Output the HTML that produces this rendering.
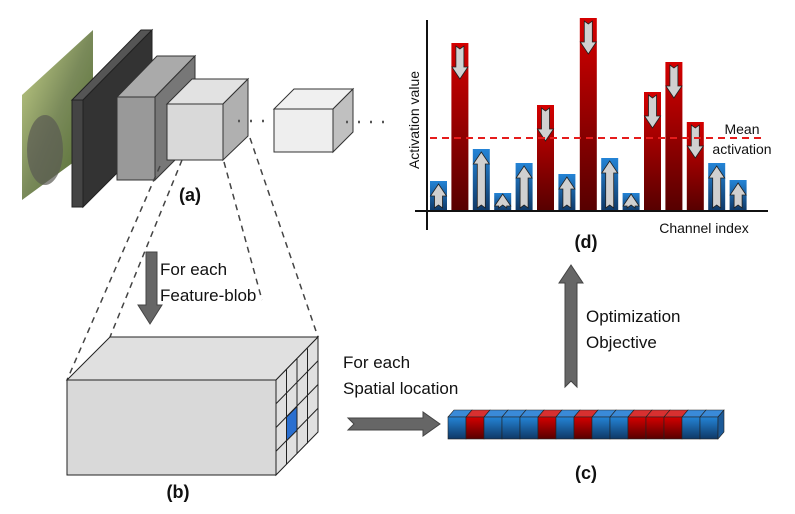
<!DOCTYPE html>
<html><head><meta charset="utf-8"><style>
html,body{margin:0;padding:0;background:#fff;}
svg{display:block;font-family:"Liberation Sans",sans-serif;}
</style></head><body>
<svg id="fig" width="795" height="514" viewBox="0 0 795 514" xmlns="http://www.w3.org/2000/svg">
<defs>
<linearGradient id="red" x1="0" y1="0" x2="0" y2="1"><stop offset="0" stop-color="#d40000"/><stop offset="1" stop-color="#560000"/></linearGradient>
<linearGradient id="blue" x1="0" y1="0" x2="0" y2="1"><stop offset="0" stop-color="#2484d6"/><stop offset="1" stop-color="#0f3866"/></linearGradient>
<linearGradient id="cat" x1="0" y1="0" x2="1" y2="1"><stop offset="0" stop-color="#c9d58a"/><stop offset="0.5" stop-color="#7a8a5a"/><stop offset="1" stop-color="#4f6a2a"/></linearGradient>
</defs>
<g>
<polygon points="22,95 93,30 93,148 22,200" fill="url(#cat)"/>
<ellipse cx="45" cy="150" rx="18" ry="35" fill="#5a5a52" opacity="0.7"/>
<polygon points="72,100 141,30 152,30 83,100" fill="#555" stroke="#222" stroke-width="1"/>
<polygon points="83,100 152,30 152,138 83,207" fill="#333" stroke="#222" stroke-width="1"/>
<rect x="72" y="100" width="11" height="107" fill="#444" stroke="#222" stroke-width="1"/>
<polygon points="117,97 157,56 195,56 155,97" fill="#aaa" stroke="#333" stroke-width="1"/>
<polygon points="155,97 195,56 195,140 155,180" fill="#777" stroke="#333" stroke-width="1"/>
<rect x="117" y="97" width="38" height="83" fill="#999" stroke="#333" stroke-width="1"/>
<polygon points="167,104 192,79 248,79 223,104" fill="#e2e2e2" stroke="#333" stroke-width="1"/>
<polygon points="223,104 248,79 248,136 223,160" fill="#b0b0b0" stroke="#333" stroke-width="1"/>
<rect x="167" y="104" width="56" height="56" fill="#d9d9d9" stroke="#333" stroke-width="1"/>
<line x1="238" y1="121" x2="274" y2="121" stroke="#555" stroke-width="2.5" stroke-dasharray="2,10"/>
<polygon points="274,109 294,89 353,89 333,109" fill="#f0f0f0" stroke="#333" stroke-width="1"/>
<polygon points="333,109 353,89 353,132 333,152" fill="#c0c0c0" stroke="#333" stroke-width="1"/>
<rect x="274" y="109" width="59" height="43" fill="#eee" stroke="#333" stroke-width="1"/>
<line x1="346" y1="122" x2="384" y2="122" stroke="#555" stroke-width="2.5" stroke-dasharray="2,10"/>
<text x="190" y="201" font-size="18" font-weight="bold" text-anchor="middle" fill="#111">(a)</text>
</g>
<g stroke="#444" stroke-width="1.5" stroke-dasharray="6,5" fill="none">
<line x1="160" y1="166" x2="67" y2="380"/>
<line x1="182" y1="160" x2="110" y2="337"/>
<line x1="224" y1="162" x2="262" y2="300"/>
<line x1="250" y1="138" x2="318" y2="337"/>
</g>
<polygon points="146,252 157,252 157,305 162,305 150,324 138,305 146,305" fill="#666" stroke="#444"/>
<text x="160" y="275" font-size="17" fill="#111"><tspan x="160">For each</tspan><tspan x="160" dy="26">Feature-blob</tspan></text>
<g>
<polygon points="67,380 110,337 318,337 276,380" fill="#e0e0e0" stroke="#222" stroke-width="1"/>
<rect x="67" y="380" width="209" height="95" fill="#d9d9d9" stroke="#222" stroke-width="1"/>
<polygon points="276,380 318,337 318,432 276,475" fill="#e0e0e0" stroke="#222" stroke-width="1"/>
<g id="grid" stroke="#222" stroke-width="1"></g>
<text x="178" y="498" font-size="18" font-weight="bold" text-anchor="middle" fill="#111">(b)</text>
</g>
<text x="343" y="368" font-size="17" fill="#111"><tspan x="343">For each</tspan><tspan x="343" dy="26">Spatial location</tspan></text>
<polygon points="348,418 423,418 423,412 440,424 423,436 423,430 348,430 354,424" fill="#666" stroke="#444"/>
<g id="vec"></g>
<text x="586" y="479" font-size="18" font-weight="bold" text-anchor="middle" fill="#111">(c)</text>
<polygon points="565,387 571,381 577,387 577,283 583,283 571,265 559,283 565,283" fill="#666" stroke="#444"/>
<text x="586" y="322" font-size="17" fill="#111"><tspan x="586">Optimization</tspan><tspan x="586" dy="26">Objective</tspan></text>
<g id="chart"></g>
<line x1="427" y1="20" x2="427" y2="230" stroke="#111" stroke-width="2"/>
<line x1="415" y1="211" x2="768" y2="211" stroke="#111" stroke-width="2"/>
<text transform="translate(419,120) rotate(-90)" font-size="14" text-anchor="middle" fill="#111">Activation value</text>
<text x="704" y="233" font-size="14" text-anchor="middle" fill="#111">Channel index</text>
<text x="742" y="134" font-size="14" text-anchor="middle" fill="#111"><tspan x="742">Mean</tspan><tspan x="742" dy="20">activation</tspan></text>
<text x="586" y="248" font-size="18" font-weight="bold" text-anchor="middle" fill="#111">(d)</text>
<script>
var values=[30,168,62,18,48,106,37,193,53,18,119,149,89,48,31];
var meanValue=73;
var NS="http://www.w3.org/2000/svg";
var baseY=211,x0=430,step=21.4,bw=17;
function xPos(i){return x0+i*step;}
function yPos(v){return baseY-v;}
var chart=document.getElementById('chart');
function mk(t,a,p){var e=document.createElementNS(NS,t);for(var k in a)e.setAttribute(k,a[k]);p.appendChild(e);return e;}
values.forEach(function(v,i){
  var hi=v>meanValue,x=xPos(i),top=yPos(v);
  var r=mk('rect',{x:x,y:top,width:bw,height:v,fill:hi?'url(#red)':'url(#blue)'},chart);
  
  
  var cx=x+bw/2,pts;
  if(hi){var a=top+3,b=top+Math.min(36,v-6);
    pts=[[cx-4,a],[cx,a+3],[cx+4,a],[cx+4,b-12],[cx+8,b-12],[cx,b],[cx-8,b-12],[cx-4,b-12]];}
  else{var b2=baseY-3,a2=top+3;if(b2-a2<14)a2=b2-14;
    pts=[[cx-4,b2],[cx,b2-3],[cx+4,b2],[cx+4,a2+12],[cx+8,a2+12],[cx,a2],[cx-8,a2+12],[cx-4,a2+12]];}
  var p=mk('polygon',{points:pts.map(function(q){return q.join(',')}).join(' '),fill:'#d0d0d0',stroke:'#222','stroke-width':0.8},chart);
  
  
});
var ml=mk('line',{x1:430,y1:yPos(meanValue),x2:765,y2:yPos(meanValue),stroke:'#e51c1c','stroke-width':2,'stroke-dasharray':'7,5'},chart);


var vec=document.getElementById('vec');
values.forEach(function(v,i){
  var hi=v>meanValue,x=448+i*18;
  mk('polygon',{points:[[x,417],[x+6,410],[x+24,410],[x+18,417]].join(' '),fill:hi?'#d83030':'#3a8ad8',stroke:'#222','stroke-width':0.6},vec);
  var c=mk('rect',{x:x,y:417,width:18,height:22,fill:hi?'url(#red)':'url(#blue)',stroke:'#222','stroke-width':0.6},vec);
  
  
});
mk('polygon',{points:'718,417 724,410 724,432 718,439',fill:'#1c5a98',stroke:'#222','stroke-width':0.6},vec);
var g=document.getElementById('grid');
for(var k=1;k<4;k++){var dx=k*42/4;
  mk('line',{x1:276+dx,y1:380-dx,x2:276+dx,y2:475-dx},g);}
for(var j=1;j<4;j++){var dy=j*95/4;
  mk('line',{x1:276,y1:380+dy,x2:318,y2:337+dy},g);}
var cell=mk('polygon',{points:[[286.5,369.5+47.5],[297,359+47.5],[297,359+71.25],[286.5,369.5+71.25]].join(' '),fill:'#2a6fd0',stroke:'#222'},g);


</script>
</svg>
</body></html>
